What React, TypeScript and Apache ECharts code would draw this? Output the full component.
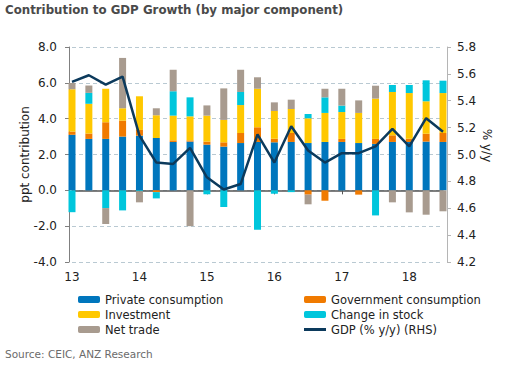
import React, { useEffect, useRef } from "react";
import * as echarts from "echarts";

const quarters = [
  "2013Q1", "2013Q2", "2013Q3", "2013Q4",
  "2014Q1", "2014Q2", "2014Q3", "2014Q4",
  "2015Q1", "2015Q2", "2015Q3", "2015Q4",
  "2016Q1", "2016Q2", "2016Q3", "2016Q4",
  "2017Q1", "2017Q2", "2017Q3", "2017Q4",
  "2018Q1", "2018Q2", "2018Q3",
];
const yearLabels = ["13", "14", "15", "16", "17", "18"];

const privateConsumption = [3.1, 2.87, 2.87, 3.0, 3.05, 2.92, 2.7, 2.72, 2.55, 2.44, 2.64, 2.7, 2.68, 2.7, 2.64, 2.7, 2.7, 2.64, 2.59, 2.7, 2.7, 2.72, 2.7];
const governmentConsumption = [0.18, 0.3, 0.93, 0.89, 0.32, -0.1, 0.09, 0.07, 0.17, 0.24, 0.56, 0.82, 0.2, 0.5, -0.24, -0.58, 0.17, -0.24, 0.28, 0.37, 0.18, 0.44, 0.5];
const investment = [2.36, 1.66, 1.87, 0.69, 1.88, 1.27, 1.38, 1.34, 1.45, 1.25, 1.56, 2.15, 1.55, 1.34, 1.38, 1.62, 1.5, 1.68, 2.25, 2.42, 2.55, 1.81, 2.23];
const changeInStock = [-1.22, 0.61, -0.99, -1.12, -0.05, -0.35, 1.36, 1.06, -0.22, -0.93, 0.73, -2.2, -0.19, -0.1, 0.24, 0.87, 0.36, 0.0, -1.4, 0.39, 0.45, 1.17, 0.69];
const netTrade = [0.35, 0.41, -0.89, 2.81, -0.62, 0.39, 1.2, -2.0, 0.57, 1.76, 1.24, 0.64, 0.48, 0.52, -0.54, 0.48, 0.94, 0.7, 0.72, -0.67, -1.23, -1.36, -1.17];
const gdpGrowth = [5.54, 5.59, 5.52, 5.58, 5.14, 4.94, 4.93, 5.05, 4.83, 4.74, 4.78, 5.15, 4.94, 5.21, 5.03, 4.94, 5.01, 5.01, 5.06, 5.19, 5.06, 5.27, 5.17];

const FONT = "DejaVu Sans";
const LINE_ICON = "path://M0,0h0.01v0.01h-0.01z M0,2h22v3h-22z M21.99,6.99h0.01v0.01h-0.01z";

export default function App() {
  const ref = useRef<HTMLDivElement>(null);

  useEffect(() => {
    if (!ref.current) return;
    const chart = echarts.init(ref.current, undefined, { renderer: "svg" });
    const bar = (name: string, arr: number[], color: string) => ({
      type: "bar",
      name,
      stack: "total",
      xAxisIndex: 0,
      yAxisIndex: 0,
      barWidth: 7,
      clip: false,
      itemStyle: { color },
      data: arr,
    });
    const isYearStart = (i: number) => i % 4 === 0;
    const legendText = { fontFamily: FONT, fontSize: 11.5, color: "#222", lineHeight: 15 };

    chart.setOption({
      animation: false,
      textStyle: { fontFamily: FONT },
      title: [
        {
          text: "Contribution to GDP Growth (by major component)",
          left: 5,
          top: 4,
          padding: 0,
          textStyle: { fontFamily: FONT, fontSize: 11.8, fontWeight: "bold", color: "#4a4a4a" },
        },
        {
          text: "Source: CEIC, ANZ Research",
          left: 5,
          top: 348,
          padding: 0,
          textStyle: { fontFamily: FONT, fontSize: 10.5, fontWeight: "normal", color: "#6b6b6b" },
        },
      ],
      grid: { left: 72, right: 62, top: 47, bottom: 108, outerBoundsMode: "none" },
      legend: [
        {
          left: 78,
          top: 292,
          padding: 0,
          orient: "vertical",
          itemWidth: 22,
          itemHeight: 7,
          itemGap: 0,
          selectedMode: false,
          textStyle: legendText,
          data: ["Private consumption", "Investment", "Net trade"],
        },
        {
          left: 304,
          top: 292,
          padding: 0,
          orient: "vertical",
          itemWidth: 22,
          itemHeight: 7,
          itemGap: 0,
          selectedMode: false,
          textStyle: legendText,
          data: [
            "Government consumption",
            "Change in stock",
            { name: "GDP (% y/y) (RHS)", icon: LINE_ICON },
          ],
        },
      ],
      xAxis: [
        {
          type: "category",
          data: quarters,
          boundaryGap: false,
          position: "bottom",
          axisLine: { show: false },
          axisTick: { show: false },
          splitLine: { show: false },
          axisLabel: {
            interval: (i: number) => isYearStart(i),
            formatter: (_v: string, i: number) => yearLabels[Math.floor(i / 4)] ?? "",
            margin: 9,
            fontSize: 12,
            color: "#222",
            fontFamily: FONT,
          },
        },
        {
          type: "category",
          data: quarters,
          boundaryGap: false,
          position: "top",
          axisLine: { show: true, onZero: true, onZeroAxisIndex: 0, lineStyle: { color: "#555555", width: 1.5 } },
          axisTick: {
            show: true,
            inside: true,
            length: 4,
            interval: (i: number) => isYearStart(i),
            lineStyle: { color: "#555555" },
          },
          axisLabel: { show: false },
          splitLine: { show: false },
        },
      ],
      yAxis: [
        {
          type: "value",
          min: -4,
          max: 8,
          interval: 2,
          position: "left",
          offset: 3,
          name: "ppt contribution",
          nameLocation: "middle",
          nameRotate: 90,
          nameGap: 38,
          nameMoveOverlap: false,
          nameTextStyle: { fontFamily: FONT, fontSize: 12, color: "#222" },
          axisLine: { show: true, lineStyle: { color: "#808080" } },
          axisTick: { show: true, length: 4, lineStyle: { color: "#808080" } },
          axisLabel: {
            margin: 12,
            fontFamily: FONT,
            fontSize: 12,
            color: "#222",
            formatter: (v: number) => v.toFixed(1),
          },
          splitLine: { show: true, lineStyle: { type: [4, 3], color: "#b9c9d2", width: 1 } },
        },
        {
          type: "value",
          min: 4.2,
          max: 5.8,
          interval: 0.2,
          position: "right",
          offset: 4,
          name: "% y/y",
          nameLocation: "middle",
          nameRotate: -90,
          nameGap: 34,
          nameMoveOverlap: false,
          nameTextStyle: { fontFamily: FONT, fontSize: 12, color: "#222", padding: [0, 18, 0, 0] },
          axisLine: { show: true, lineStyle: { color: "#b5b5b5" } },
          axisTick: { show: true, length: 4, lineStyle: { color: "#b5b5b5" } },
          axisLabel: {
            margin: 10,
            fontFamily: FONT,
            fontSize: 12,
            color: "#222",
            formatter: (v: number) => v.toFixed(1),
          },
          splitLine: { show: false },
        },
      ],
      series: [
        bar("Private consumption", privateConsumption, "#0076bd"),
        bar("Government consumption", governmentConsumption, "#f07a00"),
        bar("Investment", investment, "#ffc800"),
        bar("Change in stock", changeInStock, "#00c6dc"),
        bar("Net trade", netTrade, "#a89b8f"),
        {
          type: "line",
          name: "GDP (% y/y) (RHS)",
          xAxisIndex: 0,
          yAxisIndex: 1,
          symbol: "none",
          clip: false,
          z: 10,
          lineStyle: { width: 2.5, color: "#0c3a5c" },
          itemStyle: { color: "#0c3a5c" },
          data: gdpGrowth,
        },
      ],
    });

    return () => chart.dispose();
  }, []);

  return (
    <div
      ref={ref}
      style={{ position: "absolute", left: 0, top: 0, width: 505, height: 370 }}
    />
  );
}
